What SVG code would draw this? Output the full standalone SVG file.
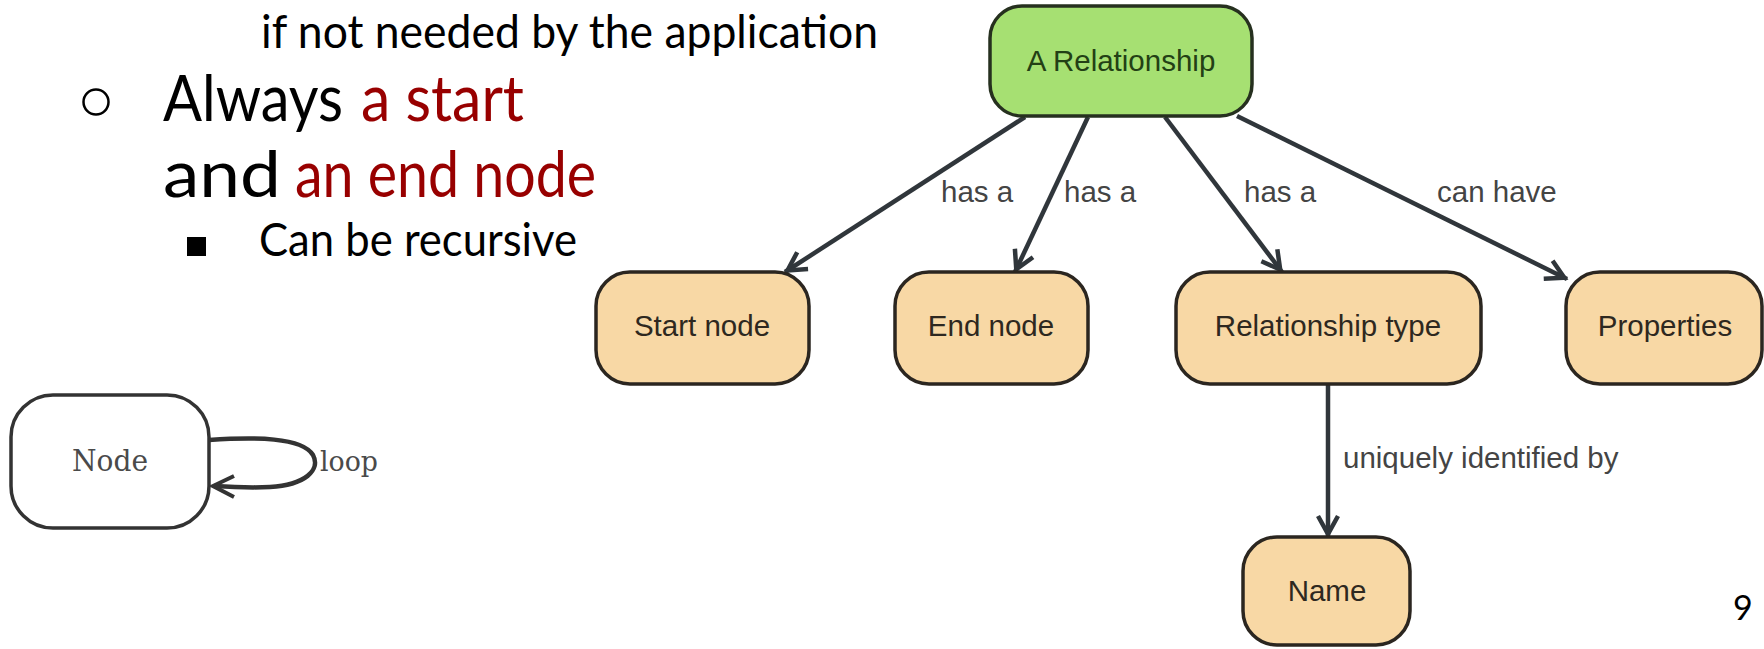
<svg xmlns="http://www.w3.org/2000/svg" width="1764" height="649" viewBox="0 0 1764 649">
  <defs>
    <style>
      .slide { font-family: Lato, "Open Sans", "Liberation Sans", sans-serif; fill: #000; }
      .red { fill: #980000; }
      .box { fill: #f8d8a5; stroke: #2b2620; stroke-width: 3.5; }
      .root { fill: #a6e072; stroke: #26301f; stroke-width: 3.5; }
      .btxt { font-family: "Liberation Sans", Arial, sans-serif; font-size: 29.5px; fill: #2e2820; text-anchor: middle; }
      .rtxt { fill: #234015; }
      .lbl { font-family: "Liberation Sans", Arial, sans-serif; font-size: 29.5px; fill: #444; }
      .edge { fill: none; stroke: #30363b; stroke-width: 4.5; }
      .serif { font-family: "DejaVu Serif", "Liberation Serif", serif; fill: #4a4a4a; }
    </style>
    <marker id="arr" viewBox="-24 -15 30 30" refX="3" refY="0" markerWidth="30" markerHeight="30" markerUnits="userSpaceOnUse" orient="auto">
      <path d="M-18,-10 L0,0 L-18,10" fill="none" stroke="#30363b" stroke-width="4.5"/>
    </marker>
  </defs>
  <rect width="1764" height="649" fill="#fff"/>

  <g id="slide-text">
    <text class="slide" x="261" y="48" font-size="46" textLength="617" lengthAdjust="spacingAndGlyphs">if not needed by the application</text>
    <circle cx="96" cy="102" r="12.5" fill="none" stroke="#000" stroke-width="2.5"/>
    <text class="slide" x="163" y="121" font-size="64" textLength="180" lengthAdjust="spacingAndGlyphs">Always</text>
    <text class="slide red" x="361" y="121" font-size="64" textLength="163" lengthAdjust="spacingAndGlyphs">a start</text>
    <text class="slide" x="163" y="197" font-size="64" textLength="118" lengthAdjust="spacingAndGlyphs">and</text>
    <text class="slide red" x="295" y="197" font-size="64" textLength="301" lengthAdjust="spacingAndGlyphs">an end node</text>
    <rect x="187" y="237" width="19" height="19" fill="#000"/>
    <text class="slide" x="259" y="256" font-size="46" textLength="318" lengthAdjust="spacingAndGlyphs">Can be recursive</text>
    <text class="slide" x="1733" y="620" font-size="34">9</text>
  </g>

  <g id="connectors">
    <path class="edge" d="M1025,117 L785,272" marker-end="url(#arr)"/>
    <path class="edge" d="M1088,117 L1015,272" marker-end="url(#arr)"/>
    <path class="edge" d="M1165,117 L1282,272" marker-end="url(#arr)"/>
    <path class="edge" d="M1237,116 L1567,279" marker-end="url(#arr)"/>
    <path class="edge" d="M1328,384 L1328,537" marker-end="url(#arr)"/>
    <text class="lbl" x="941" y="202">has a</text>
    <text class="lbl" x="1064" y="202">has a</text>
    <text class="lbl" x="1244" y="202">has a</text>
    <text class="lbl" x="1437" y="202">can have</text>
    <text class="lbl" x="1343" y="468">uniquely identified by</text>
  </g>

  <g id="node-relationship">
    <rect class="root" x="990" y="6" width="262" height="110" rx="32" ry="32"/>
    <text class="btxt rtxt" x="1121" y="71">A Relationship</text>
  </g>
  <g id="node-start">
    <rect class="box" x="596" y="272" width="213" height="112" rx="34" ry="34"/>
    <text class="btxt" x="702" y="336">Start node</text>
  </g>
  <g id="node-end">
    <rect class="box" x="895" y="272" width="193" height="112" rx="34" ry="34"/>
    <text class="btxt" x="991" y="336">End node</text>
  </g>
  <g id="node-reltype">
    <rect class="box" x="1176" y="272" width="305" height="112" rx="34" ry="34"/>
    <text class="btxt" x="1328" y="336">Relationship type</text>
  </g>
  <g id="node-properties">
    <rect class="box" x="1566" y="272" width="196" height="112" rx="34" ry="34"/>
    <text class="btxt" x="1665" y="336">Properties</text>
  </g>
  <g id="node-name">
    <rect class="box" x="1243" y="537" width="167" height="108" rx="34" ry="34"/>
    <text class="btxt" x="1327" y="601">Name</text>
  </g>

  <g id="loop-example">
    <rect x="11" y="395" width="198" height="133" rx="42" ry="42" fill="#fff" stroke="#333" stroke-width="3.5"/>
    <text class="serif" x="72" y="471" font-size="29" textLength="76" lengthAdjust="spacingAndGlyphs">Node</text>
    <path d="M209,440 C255,437 302,437 313,455 C321,470 305,485 270,487 C250,488 230,487 214,486" fill="none" stroke="#333" stroke-width="4.5"/>
    <path d="M234,476 L213,486 L234,497" fill="none" stroke="#333" stroke-width="4"/>
    <text class="serif" x="320" y="471" font-size="28" textLength="58" lengthAdjust="spacingAndGlyphs">loop</text>
  </g>
</svg>
